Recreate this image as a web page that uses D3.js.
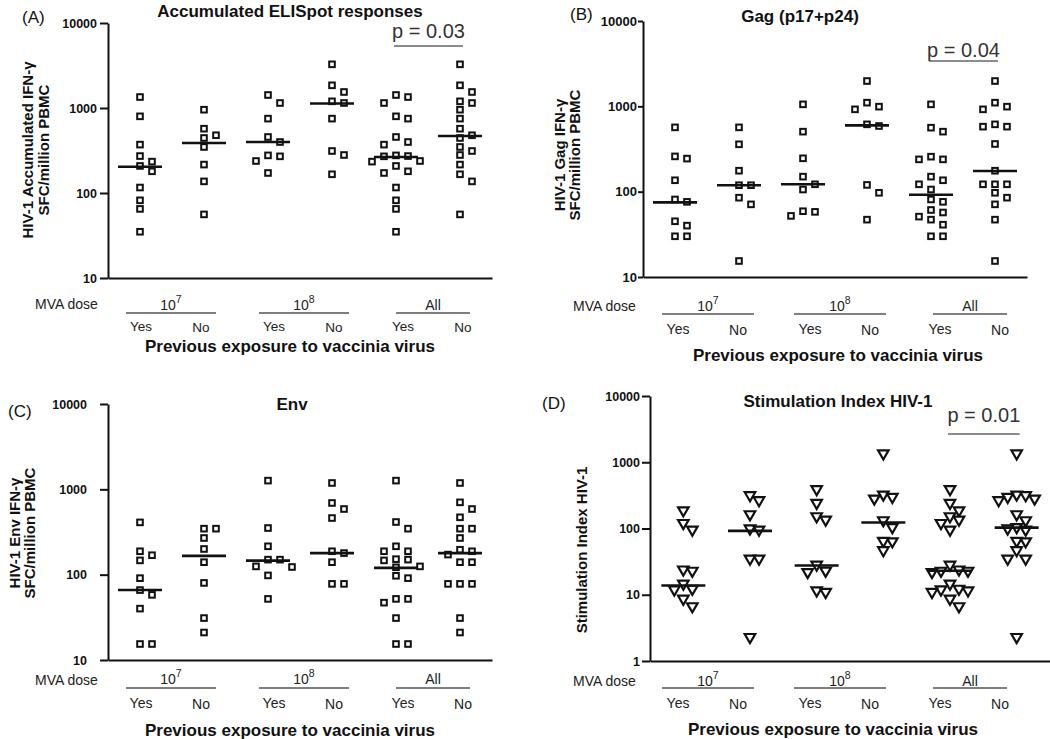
<!DOCTYPE html>
<html><head><meta charset="utf-8">
<script src="https://cdn.jsdelivr.net/npm/d3@7/dist/d3.min.js"></script>
<style>
body{margin:0;background:#fff;}
svg{display:block;font-family:"Liberation Sans",Arial,Helvetica,sans-serif;}
</style></head><body>
<svg id="chart" width="1050" height="739"></svg>
<script>
// ---------- categories & labels ----------
const categories = ["e7Yes","e7No","e8Yes","e8No","allYes","allNo"];
const exposureLabels = ["Yes","No","Yes","No","Yes","No"];
const doseBase = ["10","10","All"];
const doseSup = ["7","8",""];
const yTicksElispot = [10,100,1000,10000];
const yTicksSI = [1,10,100,1000,10000];

// ---------- (A) Accumulated ELISpot responses ----------
const elispotE7Yes = [1346,798,371,272,234,208,180,116,82,65,35];
const elispotE7No  = [955,571,478,444,348,216,137,56];
const elispotE8Yes = [1422,1145,750,456,398,277,270,238,172];
const elispotE8No  = [3265,1849,1543,1198,1145,750,312,280,166];
const elispotAllYes = [1422,1346,1145,798,750,456,398,371,277,272,270,238,234,208,180,172,116,82,65,35];
const elispotAllNo  = [3265,1849,1543,1198,1145,955,750,571,478,444,348,312,280,216,166,137,56];
const elispotMedians = [204,388,398,1130,265,469];

// ---------- (B) Gag (p17+p24) ----------
const gagE7Yes = [567,259,244,136,81,76,45,40,30,30];
const gagE7No  = [567,359,176,119,119,85,71,15.4];
const gagE8Yes = [1055,505,246,150,122,106,59,58,52];
const gagE8No  = [1980,1104,991,922,615,588,120,97,47];
const gagAllYes = [1055,562,505,257,239,239,150,136,122,106,81,76,61,57,51,47,41,30,30];
const gagAllNo  = [1980,1104,991,922,615,578,578,362,176,122,122,122,97,85,71,47,15.4];
const gagMedians = [75,119,122,598,92,175];

// ---------- (C) Env ----------
const envE7Yes = [410,188,169,147,91,66,58,40,15.4,15.4];
const envE7No  = [346,346,269,200,140,80,31,21];
const envE8Yes = [1265,352,215,150,150,125,123,98,52];
const envE8No  = [1187,692,588,461,188,179,140,78,78];
const envAllYes = [1265,414,346,215,188,188,152,150,147,125,122,97,91,52,52,47,31,15.4,15.4];
const envAllNo  = [1187,704,588,470,346,346,269,196,188,172,140,140,78,78,78,31,21];
const envMedians = [66,166,146,179,120,179];

// ---------- (D) Stimulation Index HIV-1 ----------
const siE7Yes = [188,121,96,24,23,14.7,12.3,12.0,8.7,6.7];
const siE7No  = [318,267,164,100,96,35,35,2.3];
const siE8Yes = [392,243,153,136,28.4,23,22,11.6,11];
const siE8No  = [1358,325,300,283,133,105,65,64,47];
const siAllYes = [392,243,188,153,136,121,96,28.4,24,23,23,22,14.7,12.3,12.0,11.6,11,8.7,6.7];
const siAllNo  = [1358,325,318,300,283,267,164,133,105,100,96,65,64,47,35,35,2.3];
const siMedians = [13.8,92,27.7,123,23,103];

const pValues = ["p = 0.03","p = 0.04",null,"p = 0.01"];

// ---------- layout ----------
const panels = [
 {letter:"(A)", title:"Accumulated ELISpot responses", yTitle:["HIV-1 Accumulated IFN-γ","SFC/million PBMC"],
  series:[elispotE7Yes,elispotE7No,elispotE8Yes,elispotE8No,elispotAllYes,elispotAllNo], medians:elispotMedians,
  p:pValues[0], ticks:yTicksElispot, domain:[10,10000], marker:"square",
  left:108,right:492,top:23,bottom:278, letterPos:[22,23], titlePos:[290,17], yTitleX:[33,49], yTitleY:150,
  tickLen:8, tickPad:3, tickFont:12.5, pTextY:38, pLineY:46,
  mvaX:35, mvaY:309, groupLabelY:310, groupLineY:313, yesNoY:331, yesNoFont:13.5, prevX:290, prevY:352,
  groupCenters:[171,304,433], groupHalf:[45,45,37]},
 {letter:"(B)", title:"Gag (p17+p24)", yTitle:["HIV-1 Gag IFN-γ","SFC/million PBMC"],
  series:[gagE7Yes,gagE7No,gagE8Yes,gagE8No,gagAllYes,gagAllNo], medians:gagMedians,
  p:pValues[1], ticks:yTicksElispot, domain:[10,10000], marker:"square",
  left:643,right:1027,top:21,bottom:277, letterPos:[570,20], titlePos:[800,22], yTitleX:[565,580], yTitleY:155,
  tickLen:5, tickPad:1, tickFont:13, pTextY:57, pLineY:61,
  mvaX:573, mvaY:311, groupLabelY:311, groupLineY:314, yesNoY:334, yesNoFont:14, prevX:838, prevY:361,
  groupCenters:[708,840,970], groupHalf:[46,46,37]},
 {letter:"(C)", title:"Env", yTitle:["HIV-1 Env IFN-γ","SFC/million PBMC"],
  series:[envE7Yes,envE7No,envE8Yes,envE8No,envAllYes,envAllNo], medians:envMedians,
  p:pValues[2], ticks:yTicksElispot, domain:[10,10000], marker:"square",
  left:108,right:492,top:404,bottom:660, letterPos:[8,417], titlePos:[292,410], yTitleX:[20,35], yTitleY:533,
  tickLen:8, tickPad:13, tickFont:12.5, pTextY:0, pLineY:0,
  mvaX:35, mvaY:685, groupLabelY:684, groupLineY:688, yesNoY:708, yesNoFont:14, prevX:290, prevY:736,
  groupCenters:[171,304,433], groupHalf:[45,45,37]},
 {letter:"(D)", title:"Stimulation Index HIV-1", yTitle:["Stimulation Index HIV-1"],
  series:[siE7Yes,siE7No,siE8Yes,siE8No,siAllYes,siAllNo], medians:siMedians,
  p:pValues[3], ticks:yTicksSI, domain:[1,10000], marker:"triangle",
  left:650,right:1050,top:396,bottom:661, letterPos:[542,409], titlePos:[838,407], yTitleX:[587], yTitleY:550,
  tickLen:8, tickPad:2, tickFont:12.5, pTextY:422, pLineY:434,
  mvaX:573, mvaY:686, groupLabelY:686, groupLineY:688, yesNoY:708, yesNoFont:14, prevX:833, prevY:735,
  groupCenters:[708,840,970], groupHalf:[46,46,37]}
];

const svg = d3.select("#chart");
const INK = "#111";

function swarm(values, y, step, W, H) {
  const pts = values.map(v => ({v, py:y(v), dx:0})).sort((a,b)=>a.py-b.py);
  const placed = [];
  for (const p of pts) {
    for (let k=0;k<60;k++){
      const off = k===0 ? 0 : (k%2===1 ? 1 : -1)*Math.ceil(k/2)*step;
      if (!placed.some(q => Math.abs(q.dx-off) < W && Math.abs(q.py-p.py) < H)) { p.dx = off; break; }
    }
    placed.push(p);
  }
  return pts;
}

panels.forEach(P => {
  const g = svg.append("g");
  const x = d3.scaleBand().domain(categories).range([P.left, P.right]).padding(0);
  const y = d3.scaleLog().domain(P.domain).range([P.bottom, P.top]);

  // y axis
  const ya = g.append("g").attr("transform",`translate(${P.left},0)`)
    .call(d3.axisLeft(y).tickValues(P.ticks).tickFormat(d3.format("d"))
      .tickSize(P.tickLen).tickSizeOuter(0).tickPadding(P.tickPad));
  ya.select(".domain").attr("stroke",INK).attr("stroke-width",2);
  ya.selectAll(".tick line").attr("stroke",INK).attr("stroke-width",2);
  ya.selectAll(".tick text").attr("fill",INK).attr("font-size",P.tickFont).attr("font-weight","bold")
    .attr("font-family","Liberation Sans, Arial, sans-serif");

  // x axis (line only)
  const xa = g.append("g").attr("transform",`translate(0,${P.bottom})`)
    .call(d3.axisBottom(x).tickValues([]).tickSizeOuter(0));
  xa.select(".domain").attr("stroke",INK).attr("stroke-width",2);

  // points
  const isTri = P.marker === "triangle";
  P.series.forEach((vals, ci) => {
    const cx = x(categories[ci]) + x.bandwidth()/2;
    const pts = isTri ? swarm(vals, y, 4.5, 9, 9) : swarm(vals, y, 6, 10, 8);
    const sel = g.append("g");
    if (isTri) {
      sel.selectAll("path").data(pts).join("path")
        .attr("d", d3.symbol(d3.symbolTriangle, 48))
        .attr("transform", d => `translate(${cx+d.dx},${d.py}) rotate(180)`)
        .attr("fill","#fff").attr("stroke",INK).attr("stroke-width",2.2).attr("stroke-linejoin","miter");
    } else {
      sel.selectAll("rect").data(pts).join("rect")
        .attr("x", d => cx + d.dx - 2.8).attr("y", d => d.py - 2.8)
        .attr("width",5.6).attr("height",5.6)
        .attr("fill","#fff").attr("stroke",INK).attr("stroke-width",2);
    }
    // median
    g.append("line")
      .attr("x1", cx-22).attr("x2", cx+22)
      .attr("y1", y(P.medians[ci])).attr("y2", y(P.medians[ci]))
      .attr("stroke",INK).attr("stroke-width",2.6);
  });

  // panel letter
  g.append("text").attr("x",P.letterPos[0]).attr("y",P.letterPos[1])
    .attr("font-size",17).attr("fill",INK).text(P.letter);
  // title
  g.append("text").attr("x",P.titlePos[0]).attr("y",P.titlePos[1]).attr("text-anchor","middle")
    .attr("font-size",17).attr("font-weight","bold").attr("fill",INK).text(P.title);
  // y title
  P.yTitle.forEach((t,i) => {
    g.append("text").attr("transform",`translate(${P.yTitleX[i]},${P.yTitleY}) rotate(-90)`)
      .attr("text-anchor","middle").attr("font-size",15).attr("font-weight","bold").attr("fill",INK).text(t);
  });

  // p value
  if (P.p) {
    const x0 = x(categories[4]) + x.bandwidth()/2 - 2;
    const x1 = x(categories[5]) + x.bandwidth()/2 + 3;
    g.append("line").attr("x1",x0).attr("x2",x1).attr("y1",P.pLineY).attr("y2",P.pLineY)
      .attr("stroke","#666").attr("stroke-width",1.6);
    g.append("text").attr("x",(x0+x1)/2).attr("y",P.pTextY).attr("text-anchor","middle")
      .attr("font-size",20).attr("fill","#333").text(P.p);
  }

  // bottom labels
  g.append("text").attr("x",P.mvaX).attr("y",P.mvaY).attr("font-size",14).attr("fill","#222").text("MVA dose");
  doseBase.forEach((b,i) => {
    const c = P.groupCenters[i], h = P.groupHalf[i];
    g.append("line").attr("x1",c-h).attr("x2",c+h).attr("y1",P.groupLineY).attr("y2",P.groupLineY)
      .attr("stroke","#555").attr("stroke-width",1.3);
    const t = g.append("text").attr("x",c).attr("y",P.groupLabelY).attr("text-anchor","middle")
      .attr("font-size",14).attr("fill","#222");
    t.append("tspan").text(b);
    if (doseSup[i]) t.append("tspan").attr("dy",-7).attr("font-size",10.5).text(doseSup[i]);
    [0,1].forEach(j => {
      g.append("text").attr("x", c + (j===0?-30:30)).attr("y", P.yesNoY + (j===1?1:0))
        .attr("text-anchor","middle").attr("font-size",P.yesNoFont).attr("fill","#222").text(exposureLabels[i*2+j]);
    });
  });
  g.append("text").attr("x",P.prevX).attr("y",P.prevY).attr("text-anchor","middle")
    .attr("font-size",17).attr("font-weight","bold").attr("fill",INK).text("Previous exposure to vaccinia virus");
});
</script>
</body></html>
